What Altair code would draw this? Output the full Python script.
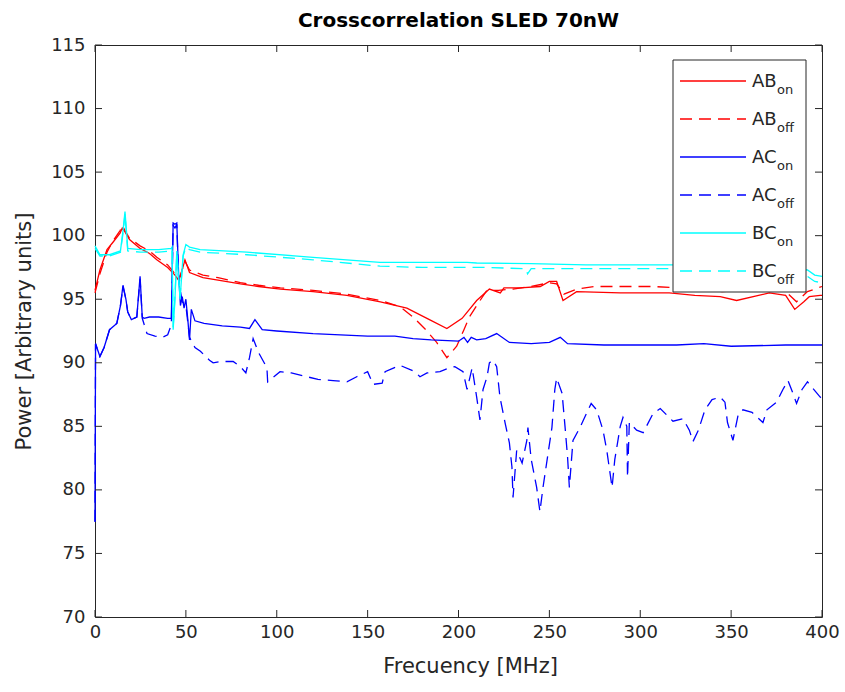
import altair as alt
import pandas as pd

# ---------------- data ----------------
ab_on_f = [0, 2.7, 6.6, 10, 13.8, 15, 16.5, 19, 24.8, 30, 34, 40, 44, 46, 47, 49.5, 52, 59.4, 67.7, 80,
           90, 102, 120, 138.6, 157, 171.6, 184, 193.6, 202, 210, 217, 223, 225, 234, 245, 250, 254, 257.5,
           265, 289, 316, 330, 344, 353, 371, 380, 385, 390, 393, 399, 400]
ab_on_v = [95.7, 97.3, 98.9, 99.5, 100.2, 100.6, 100.3, 99.7, 99.0, 98.6, 98.1, 97.5, 96.9, 96.5, 96.8, 98.1,
           97.1, 96.7, 96.5, 96.2, 96.0, 95.8, 95.6, 95.3, 94.8, 94.3, 93.4, 92.7, 93.5, 94.9, 95.8, 95.5,
           95.9, 95.9, 96.0, 96.4, 96.4, 94.9, 95.6, 95.5, 95.5, 95.3, 95.2, 94.9, 95.5, 95.3, 94.2, 94.8,
           95.2, 95.3, 95.3]

ab_off_f = [0, 2.7, 6.6, 10, 13.8, 15, 16.5, 19, 24.8, 30, 34, 40, 44, 46, 47, 49.5, 52, 59.4, 67.7, 80,
            90, 102, 120, 138.6, 157, 168, 175, 182, 188, 193.6, 199, 203, 206, 210, 215.6, 222, 230, 240,
            250, 254, 258, 265, 275, 290, 307, 320, 335, 345, 355, 370, 380, 386, 392, 400]
ab_off_v = [95.5, 97.0, 98.7, 99.6, 100.4, 100.8, 100.4, 99.8, 99.2, 98.8, 98.3, 97.7, 97.0, 96.6, 96.9, 98.0,
            97.3, 96.9, 96.7, 96.3, 96.1, 95.9, 95.7, 95.4, 94.9, 94.4, 93.6, 92.6, 91.6, 90.4, 91.3, 92.6,
            93.6, 94.5, 95.7, 95.7, 95.8, 96.0, 96.3, 96.2, 95.4, 95.8, 96.0, 96.0, 96.0, 95.9, 95.8, 95.6,
            95.7, 95.8, 95.6, 94.8, 95.6, 96.0]

ac_on_f = [0, 0.3, 1, 2.7, 5, 8, 12, 14, 15.4, 17, 18, 20, 23, 24.8, 26, 27, 30, 35, 40, 42, 43, 44, 45, 46,
           47, 48, 49, 50, 51, 52, 53, 55, 60, 70, 80, 85, 88, 92, 100, 120, 150, 165, 175, 185, 200, 203,
           205, 207, 210, 215, 221, 228, 240, 250, 256, 260, 280, 300, 320, 335, 350, 380, 400]
ac_on_v = [77.5, 91.5, 91.2, 90.5, 91.2, 92.6, 93.1, 94.5, 96.1, 95.0, 94.0, 93.4, 93.6, 96.8, 93.6, 93.5,
           93.6, 93.6, 93.5, 93.5, 101.0, 100.9, 101.0, 97.0, 94.5, 95.2, 94.3, 95.0, 93.5, 91.8, 94.2, 93.3,
           93.1, 92.9, 92.8, 92.7, 93.4, 92.6, 92.5, 92.3, 92.1, 92.1, 91.9, 91.8, 91.7, 92.0, 91.6, 92.0,
           91.8, 91.9, 92.3, 91.6, 91.5, 91.6, 92.0, 91.5, 91.4, 91.4, 91.4, 91.5, 91.3, 91.4, 91.4]

ac_off_f = [0, 0.3, 1, 2.7, 5, 8, 12, 14, 15.4, 17, 18, 20, 23, 24.8, 26, 28.6, 33, 37, 40, 42, 43, 44, 45,
            46, 48, 50, 52, 55, 58, 63, 65, 68.8, 76, 80, 83, 85, 87, 90, 94.6, 95, 101.8, 108, 116.6, 122.7,
            131, 138.6, 144, 150, 153, 158, 159.6, 167.8, 176, 178.8, 182.7, 189.8, 195, 198, 202.5, 204.7,
            207.5, 210, 211.8, 213.5, 215.7, 217, 219, 221, 222.8, 225.6, 228, 229.4, 230, 232, 235, 237.6,
            238.2, 240, 243, 244.8, 246.5, 249, 251.4, 253, 254, 257, 258.6, 260, 261, 263, 266.8, 273, 276,
            279.5, 281.6, 284.5, 286, 289, 290.5, 292.6, 293, 294, 298, 301.6, 307, 311, 318, 323.5, 327,
            329, 332, 335.6, 339.5, 344, 346.6, 348, 351, 354, 356.5, 361.5, 367.5, 369.7, 375, 378.5,
            381.3, 384, 386, 389, 392, 399, 400]
ac_off_v = [77.5, 91.5, 91.2, 90.5, 91.2, 92.6, 93.1, 94.5, 96.0, 95.0, 94.0, 93.4, 93.6, 96.6, 93.5, 92.3,
            92.1, 92.0, 92.2, 93.0, 100.8, 100.6, 100.9, 96.5, 94.8, 94.5, 92.0, 91.2, 90.9, 90.2, 90.0,
            90.1, 90.1, 89.7, 89.2, 90.4, 91.9, 90.8, 89.6, 88.5, 89.3, 89.2, 88.9, 88.7, 88.6, 88.5, 88.9,
            89.3, 88.3, 88.4, 89.3, 89.8, 89.3, 88.9, 89.2, 89.3, 89.6, 89.7, 89.3, 87.9, 89.6, 87.3, 85.5,
            87.9, 88.9, 90.0, 90.2, 89.7, 87.3, 85.3, 83.7, 81.8, 79.4, 83.1, 82.1, 83.9, 84.9, 82.4, 80.2,
            78.3, 80.2, 82.6, 84.9, 87.9, 88.8, 87.6, 85.0, 82.6, 80.2, 83.9, 84.9, 86.8, 86.3, 84.7, 83.1,
            80.2, 82.4, 85.0, 85.7, 85.0, 81.0, 85.3, 84.7, 84.5, 86.0, 86.4, 85.4, 85.6, 84.7, 83.8, 84.7,
            86.3, 87.1, 87.3, 86.9, 85.3, 83.9, 86.0, 86.3, 86.1, 85.3, 86.3, 86.9, 87.9, 88.6, 87.6, 86.8,
            87.9, 88.5, 87.3, 87.2]

bc_on_f = [0, 2.7, 8, 14, 15.5, 16.5, 17.5, 18, 25, 35, 42, 42.4, 43, 44, 45, 46.8, 48.5, 50, 52, 57.8,
           83.6, 120, 156.8, 180, 204.7, 210, 240, 270, 300, 330, 360, 380, 392, 396, 400]
bc_on_v = [99.2, 98.5, 98.5, 98.8, 100.5, 101.9, 100.0, 99.0, 98.9, 98.9, 99.0, 99.1, 92.6, 95.0, 98.8,
           95.0, 98.5, 99.3, 99.1, 98.9, 98.7, 98.3, 97.9, 97.9, 97.9, 97.85, 97.8, 97.7, 97.7, 97.7, 97.6,
           97.5, 97.3, 96.9, 96.8]

bc_off_f = [0, 2.7, 8, 14, 15.5, 16.5, 17.5, 18, 25, 35, 42, 42.4, 43, 44, 45, 46.8, 48.5, 50, 52, 57.8,
            83.6, 120, 156.8, 180, 204.7, 215, 237, 238, 240, 270, 300, 330, 360, 380, 392, 396, 400]
bc_off_v = [99.0, 98.4, 98.4, 98.7, 100.3, 101.7, 99.8, 98.8, 98.7, 98.7, 98.8, 98.9, 92.8, 95.2, 98.6,
            95.2, 98.4, 99.1, 98.9, 98.7, 98.5, 98.1, 97.6, 97.5, 97.5, 97.5, 97.4, 97.0, 97.4, 97.4, 97.4,
            97.4, 97.4, 97.2, 96.8, 96.4, 96.3]

series_base = ["AB", "AB", "AC", "AC", "BC", "BC"]
series_sub = ["on", "off", "on", "off", "on", "off"]
series_color = ["#FF0000", "#FF0000", "#0000FF", "#0000FF", "#00FFFF", "#00FFFF"]
series_dashed = [False, True, False, True, False, True]
series_data = [(ab_on_f, ab_on_v), (ab_off_f, ab_off_v), (ac_on_f, ac_on_v),
               (ac_off_f, ac_off_v), (bc_on_f, bc_on_v), (bc_off_f, bc_off_v)]

x_ticks = list(range(0, 401, 50))
y_ticks = list(range(70, 116, 5))

# ---------------- styling ----------------
FONT = "DejaVu Sans"
AX = "#262626"
W, H = 727, 572
DASH = [12, 7]
LW = 1.3

common_axis = dict(ticks=False, domain=False, grid=False, labelOverlap=False, labelFlush=False,
                   labelFont=FONT, labelFontSize=18, labelColor=AX, titleFont=FONT, titleFontSize=21,
                   titleFontWeight="normal", titleColor=AX)
xaxis = alt.Axis(values=x_ticks, title="Frecuency [MHz]", labelPadding=6, titlePadding=14, titleX=375,
                 **common_axis)
yaxis = alt.Axis(values=y_ticks, title="Power [Arbitrary units]", labelPadding=10, titlePadding=16,
                 **common_axis)
X = alt.X("f:Q", scale=alt.Scale(domain=[0, 400], nice=False, zero=False), axis=xaxis)
Y = alt.Y("v:Q", scale=alt.Scale(domain=[70, 115], nice=False, zero=False), axis=yaxis)

layers = []
for (fs, vs), col, dashed in zip(series_data, series_color, series_dashed):
    df = pd.DataFrame({"f": fs, "v": vs})
    kw = dict(color=col, strokeWidth=LW)
    if dashed:
        kw["strokeDash"] = DASH
    layers.append(alt.Chart(df).mark_line(**kw).encode(x=X, y=Y, order="f:Q"))

# inward ticks (MATLAB style) on all four sides
xt = pd.DataFrame({"f": x_ticks})
yt = pd.DataFrame({"v": y_ticks})
layers.append(alt.Chart(xt).mark_rule(color=AX, strokeWidth=1).encode(x=X, y=alt.value(H), y2=alt.value(H - 7)))
layers.append(alt.Chart(xt).mark_rule(color=AX, strokeWidth=1).encode(x=X, y=alt.value(0), y2=alt.value(7)))
layers.append(alt.Chart(yt).mark_rule(color=AX, strokeWidth=1).encode(y=Y, x=alt.value(0), x2=alt.value(7)))
layers.append(alt.Chart(yt).mark_rule(color=AX, strokeWidth=1).encode(y=Y, x=alt.value(W), x2=alt.value(W - 7)))

# custom legend with subscripts
one = pd.DataFrame({"a": [0]})
layers.append(alt.Chart(one).mark_rect(fill="white", stroke=AX, strokeWidth=1).encode(
    x=alt.value(578), x2=alt.value(711), y=alt.value(15), y2=alt.value(247)))
for i in range(6):
    yy = 36 + i * 38
    kw = dict(color=series_color[i], strokeWidth=LW)
    if series_dashed[i]:
        kw["strokeDash"] = DASH
    layers.append(alt.Chart(one).mark_rule(**kw).encode(
        x=alt.value(585), x2=alt.value(651), y=alt.value(yy), y2=alt.value(yy)))
    layers.append(alt.Chart(one).mark_text(text=series_base[i], align="left", baseline="alphabetic",
                                           font=FONT, fontSize=18, color=AX).encode(
        x=alt.value(657), y=alt.value(yy + 6)))
    layers.append(alt.Chart(one).mark_text(text=series_sub[i], align="left", baseline="alphabetic",
                                           font=FONT, fontSize=13, color=AX).encode(
        x=alt.value(682), y=alt.value(yy + 13)))

chart = alt.layer(*layers).properties(
    width=W, height=H,
    title=alt.TitleParams("Crosscorrelation SLED 70nW", font=FONT, fontSize=20, fontWeight="bold",
                          color="black", anchor="middle", offset=5),
    autosize=alt.AutoSizeParams(type="none"),
    padding={"left": 95, "top": 45, "right": 23, "bottom": 75},
    background="white",
).configure_view(stroke=AX, strokeWidth=1)

chart.save("out.html", embed_options={"renderer": "svg", "actions": False})
